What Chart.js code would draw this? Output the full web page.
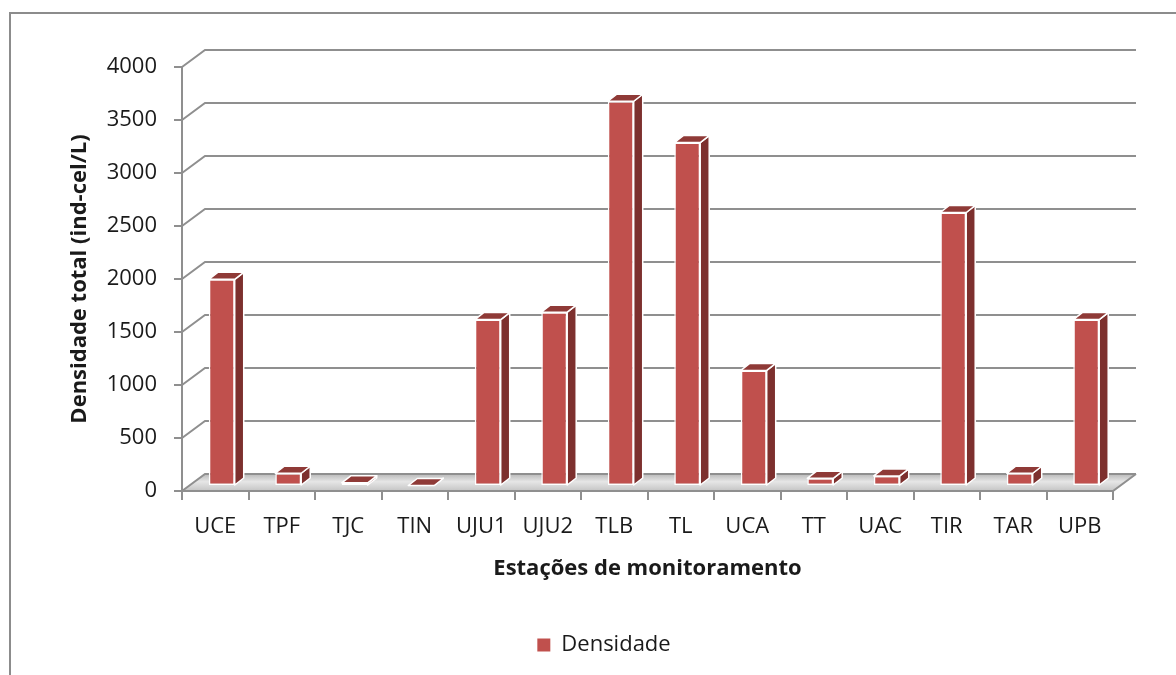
<!DOCTYPE html>
<html>
<head>
<meta charset="utf-8">
<script src="https://cdn.jsdelivr.net/npm/chart.js@4.4.1/dist/chart.umd.min.js"></script>
<style>
  html, body { margin: 0; padding: 0; background: #ffffff; }
  #wrap { width: 1176px; height: 675px; position: relative; }
</style>
</head>
<body>
<div id="wrap"><canvas id="chart" width="1176" height="675"></canvas></div>
<script>
// Monitoring stations and total density (ind-cel/L)
const stations = ['UCE', 'TPF', 'TJC', 'TIN', 'UJU1', 'UJU2', 'TLB', 'TL', 'UCA', 'TT', 'UAC', 'TIR', 'TAR', 'UPB'];
const densidade = [1950, 120, 30, 5, 1570, 1640, 3630, 3240, 1090, 72, 95, 2580, 120, 1570];
const yTickValues = [0, 500, 1000, 1500, 2000, 2500, 3000, 3500, 4000];

const seriesName = 'Densidade';
const xTitle = 'Estações de monitoramento';
const yTitle = 'Densidade total (ind-cel/L)';

// Look of the pseudo-3D columns
const FONT = "'Open Sans', 'DejaVu Sans', sans-serif";
const TEXT = '#1a1a1a';
const AXIS = '#8f8f8f';
const FRONT = '#c0504d';
const SIDE = '#7d302e';
const TOP = '#8f3a37';
const WALL = { dx: 23, dy: -17 };      // depth of the back wall
const SHIFT = { dx: 6.5, dy: -5 };     // bar front face sits a little into the floor
const BAR_DEPTH = { dx: 9, dy: -7 };   // thickness of each column

const depth3d = {
  id: 'depth3d',
  beforeDraw(chart) {
    const ctx = chart.ctx;
    ctx.save();
    ctx.strokeStyle = '#8c8c8c';
    ctx.lineWidth = 2;
    ctx.strokeRect(10, 13, 1190, 700);
    ctx.restore();
  },
  beforeDatasetsDraw(chart) {
    const { ctx, chartArea: a, scales: { y } } = chart;
    const l = a.left, r = a.right, b = a.bottom;
    ctx.save();
    // floor
    const g = ctx.createLinearGradient(0, b + WALL.dy, 0, b);
    g.addColorStop(0, '#b9b9b9');
    g.addColorStop(0.45, '#e6e6e6');
    g.addColorStop(1, '#c4c4c4');
    ctx.beginPath();
    ctx.moveTo(l, b);
    ctx.lineTo(r, b);
    ctx.lineTo(r + WALL.dx, b + WALL.dy);
    ctx.lineTo(l + WALL.dx, b + WALL.dy);
    ctx.closePath();
    ctx.fillStyle = g;
    ctx.fill();
    // back wall gridlines with their side-wall diagonals
    ctx.strokeStyle = AXIS;
    ctx.lineWidth = 2;
    y.ticks.forEach(t => {
      const py = y.getPixelForValue(t.value);
      ctx.beginPath();
      ctx.moveTo(l, py);
      ctx.lineTo(l + WALL.dx, py + WALL.dy);
      ctx.lineTo(r + WALL.dx, py + WALL.dy);
      ctx.stroke();
    });
    // floor front and right edges
    ctx.beginPath();
    ctx.moveTo(l, b);
    ctx.lineTo(r, b);
    ctx.lineTo(r + WALL.dx, b + WALL.dy);
    ctx.stroke();
    ctx.restore();
  },
  beforeDatasetDraw(chart) {
    chart.ctx.save();
    chart.ctx.translate(SHIFT.dx, SHIFT.dy);
  },
  afterDatasetDraw(chart, args) {
    const ctx = chart.ctx;
    ctx.lineWidth = 1.5;
    ctx.strokeStyle = '#ffffff';
    ctx.lineJoin = 'round';
    args.meta.data.forEach(bar => {
      const { x, y, base, width } = bar.getProps(['x', 'y', 'base', 'width'], true);
      const xl = x - width / 2, xr = x + width / 2;
      // side face
      ctx.beginPath();
      ctx.moveTo(xr, y);
      ctx.lineTo(xr + BAR_DEPTH.dx, y + BAR_DEPTH.dy);
      ctx.lineTo(xr + BAR_DEPTH.dx, base + BAR_DEPTH.dy);
      ctx.lineTo(xr, base);
      ctx.closePath();
      ctx.fillStyle = SIDE;
      ctx.fill();
      ctx.stroke();
      // top face
      ctx.beginPath();
      ctx.moveTo(xl, y);
      ctx.lineTo(xl + BAR_DEPTH.dx, y + BAR_DEPTH.dy);
      ctx.lineTo(xr + BAR_DEPTH.dx, y + BAR_DEPTH.dy);
      ctx.lineTo(xr, y);
      ctx.closePath();
      ctx.fillStyle = TOP;
      ctx.fill();
      ctx.stroke();
    });
    ctx.restore();
  }
};

new Chart(document.getElementById('chart'), {
  type: 'bar',
  data: {
    labels: stations,
    datasets: [{
      label: seriesName,
      data: densidade,
      backgroundColor: FRONT,
      borderColor: '#ffffff',
      borderWidth: 1.5,
      borderSkipped: false,
      categoryPercentage: 1,
      barPercentage: 0.39,
      clip: false
    }]
  },
  options: {
    responsive: false,
    devicePixelRatio: 1,
    animation: false,
    layout: { padding: { left: 32, right: 0, top: 67, bottom: 9 } },
    plugins: {
      tooltip: { enabled: false },
      legend: {
        position: 'bottom',
        labels: {
          boxWidth: 13,
          boxHeight: 13,
          padding: 10,
          color: TEXT,
          font: { family: FONT, size: 22 },
          generateLabels(chart) {
            return Chart.defaults.plugins.legend.labels.generateLabels(chart).map(item => {
              item.lineWidth = 0;
              item.strokeStyle = 'transparent';
              return item;
            });
          }
        }
      }
    },
    scales: {
      x: {
        type: 'category',
        offset: true,
        grid: { offset: true, color: 'transparent', tickColor: AXIS, tickLength: 9, lineWidth: 2, tickWidth: 2 },
        border: { display: true, color: AXIS, width: 2 },
        ticks: { color: TEXT, font: { family: FONT, size: 22 }, padding: 14, autoSkip: false, maxRotation: 0 },
        title: { display: true, text: xTitle, color: TEXT, font: { family: FONT, size: 22, weight: 'bold' }, padding: { top: 0, bottom: 42 } },
        afterFit(scale) { scale.height = 133; }
      },
      y: {
        type: 'linear',
        min: 0,
        max: 4000,
        afterBuildTicks(scale) { scale.ticks = yTickValues.map(v => ({ value: v })); },
        grid: { color: 'transparent', tickColor: AXIS, tickLength: 8, lineWidth: 2, tickWidth: 2 },
        border: { display: true, color: AXIS, width: 2 },
        ticks: { color: TEXT, font: { family: FONT, size: 22 }, padding: 17, callback: v => String(v) },
        title: { display: true, text: yTitle, color: TEXT, font: { family: FONT, size: 22, weight: 'bold' }, padding: { top: 35, bottom: 0 } },
        afterFit(scale) { scale.width = 150; }
      },
      yRightSpace: {
        type: 'linear',
        position: 'right',
        display: true,
        grid: { display: false },
        border: { display: false },
        ticks: { display: false },
        afterFit(scale) { scale.width = 63; }
      }
    }
  },
  plugins: [depth3d]
});
</script>
</body>
</html>
